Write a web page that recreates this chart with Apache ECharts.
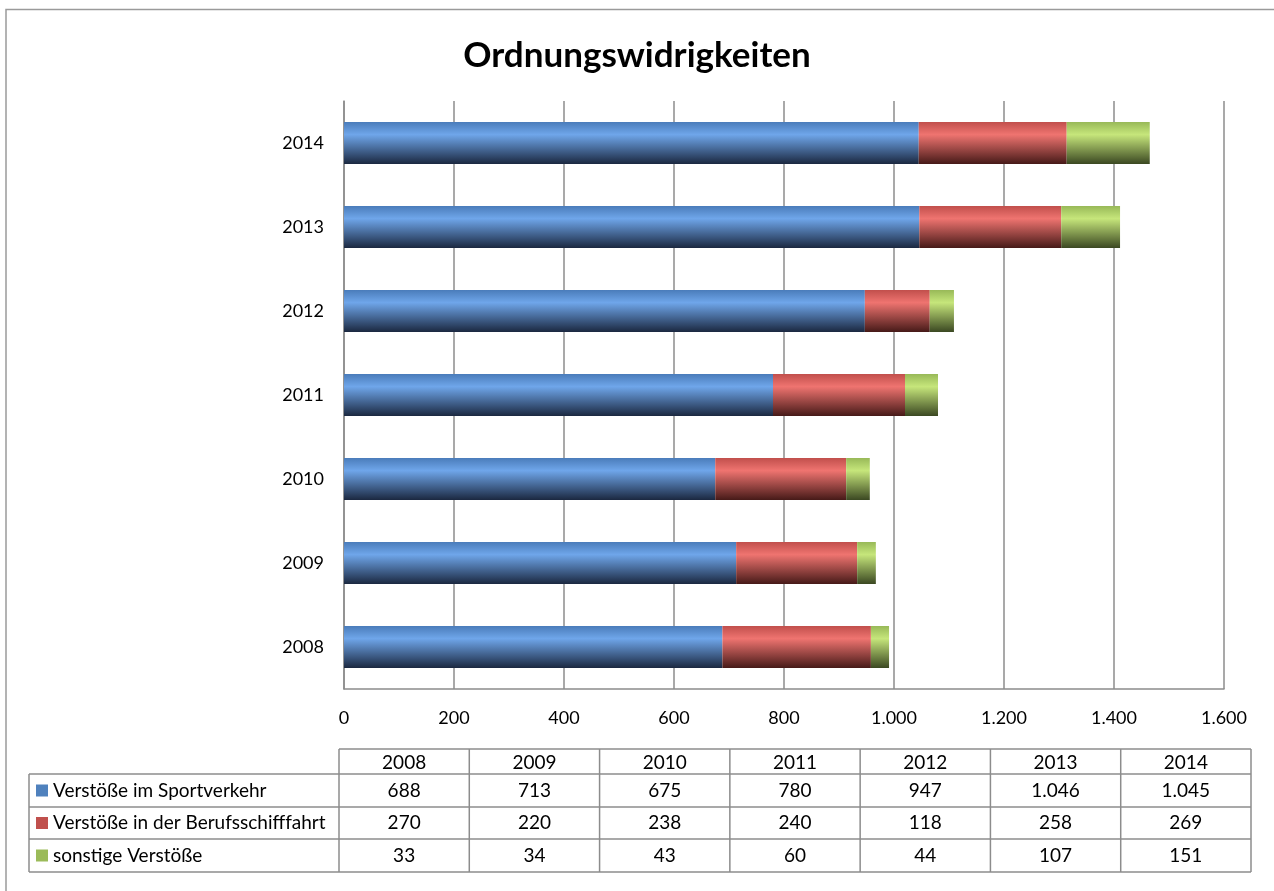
<!DOCTYPE html>
<html>
<head>
<meta charset="utf-8">
<title>Ordnungswidrigkeiten</title>
<script src="https://cdn.jsdelivr.net/npm/echarts@6/dist/echarts.min.js"></script>
<style>
  html, body { margin: 0; padding: 0; background: #fff; }
  #chart { width: 1274px; height: 891px; }
</style>
</head>
<body>
<div id="chart"></div>
<script>
// Jahre (Kategorien) und Werte aus der Tabelle
const years = ['2008', '2009', '2010', '2011', '2012', '2013', '2014'];
const seriesNames = ['Verstöße im Sportverkehr', 'Verstöße in der Berufsschifffahrt', 'sonstige Verstöße'];
const sportverkehr = [688, 713, 675, 780, 947, 1046, 1045];
const berufsschifffahrt = [270, 220, 238, 240, 118, 258, 269];
const sonstige = [33, 34, 43, 60, 44, 107, 151];

const FONT = 'Lato, "Open Sans", sans-serif';
const GRID_COLOR = '#8c8c8c';
const TABLE_FONT = '19px ' + FONT;

// Farbverläufe wie in Excel (oben mittel, hell, unten dunkel)
function shade(top, light, dark) {
  return new echarts.graphic.LinearGradient(0, 0, 0, 1, [
    { offset: 0, color: top },
    { offset: 0.3, color: light },
    { offset: 1, color: dark }
  ]);
}
const palette = [
  { base: '#4f81bd', grad: shade('#4a7cba', '#6fa6ea', '#1b2840') },
  { base: '#c0504d', grad: shade('#c14f4c', '#ef7470', '#461a18') },
  { base: '#9bbb59', grad: shade('#98b958', '#c6e67b', '#3b4822') }
];

function deNumber(v) {
  return String(v).replace(/\B(?=(\d{3})+(?!\d))/g, '.');
}

// Tabelle unterhalb des Diagramms
const tableLeft = 29;
const colStart = 339;
const colWidth = (1251 - 339) / years.length;
const headerTop = 749;
const rowTops = [774, 807, 839];
const rowBottom = 872;
const rowValues = [sportverkehr, berufsschifffahrt, sonstige];

function buildTable() {
  const els = [];
  const line = (x1, y1, x2, y2) => ({
    type: 'line',
    shape: { x1, y1, x2, y2 },
    style: { stroke: GRID_COLOR, lineWidth: 1.5 }
  });
  // horizontale Linien
  els.push(line(colStart, headerTop, 1251, headerTop));
  rowTops.forEach(y => els.push(line(tableLeft, y, 1251, y)));
  els.push(line(tableLeft, rowBottom, 1251, rowBottom));
  // vertikale Linien
  els.push(line(tableLeft, rowTops[0], tableLeft, rowBottom));
  for (let i = 0; i <= years.length; i++) {
    const x = colStart + i * colWidth;
    els.push(line(x, headerTop, x, rowBottom));
  }
  // Kopfzeile
  years.forEach((y, i) => {
    els.push({
      type: 'text',
      x: colStart + (i + 0.5) * colWidth,
      y: (headerTop + rowTops[0]) / 2 + 1,
      style: { text: y, font: TABLE_FONT, fill: '#000', align: 'center', verticalAlign: 'middle' }
    });
  });
  // Datenzeilen
  rowValues.forEach((vals, r) => {
    const top = rowTops[r];
    const bottom = r + 1 < rowTops.length ? rowTops[r + 1] : rowBottom;
    const mid = (top + bottom) / 2;
    els.push({
      type: 'rect',
      shape: { x: 36, y: mid - 6, width: 12, height: 12 },
      style: { fill: palette[r].base }
    });
    els.push({
      type: 'text',
      x: 53,
      y: mid,
      style: { text: seriesNames[r], font: TABLE_FONT, fill: '#000', align: 'left', verticalAlign: 'middle' }
    });
    vals.forEach((v, i) => {
      els.push({
        type: 'text',
        x: colStart + (i + 0.5) * colWidth,
        y: mid,
        style: { text: deNumber(v), font: TABLE_FONT, fill: '#000', align: 'center', verticalAlign: 'middle' }
      });
    });
  });
  // äußerer Rahmen
  els.push({
    type: 'rect',
    shape: { x: 6, y: 9.5, width: 1300, height: 900 },
    style: { fill: 'none', stroke: '#9a9a9a', lineWidth: 1.5 }
  });
  return els;
}

const chart = echarts.init(document.getElementById('chart'));

const option = {
  animation: false,
  backgroundColor: '#fff',
  title: {
    text: 'Ordnungswidrigkeiten',
    left: 'center',
    top: 33,
    textStyle: { fontFamily: FONT, fontSize: 35, fontWeight: 'bold', color: '#000' }
  },
  grid: {
    left: 344,
    right: 50,
    top: 101,
    bottom: 202
  },
  xAxis: {
    type: 'value',
    min: 0,
    max: 1600,
    interval: 200,
    axisLine: { show: true, lineStyle: { color: GRID_COLOR, width: 1.5 } },
    axisTick: { show: false },
    splitLine: { show: true, lineStyle: { color: GRID_COLOR, width: 1.5 } },
    axisLabel: {
      margin: 20,
      fontFamily: FONT,
      fontSize: 18,
      color: '#000',
      formatter: v => deNumber(v)
    }
  },
  yAxis: {
    type: 'category',
    data: years,
    axisLine: { show: true, lineStyle: { color: GRID_COLOR, width: 1.5 } },
    axisTick: { show: false },
    axisLabel: { margin: 20, fontFamily: FONT, fontSize: 18, color: '#000' }
  },
  series: [sportverkehr, berufsschifffahrt, sonstige].map((data, i) => ({
    name: seriesNames[i],
    type: 'bar',
    stack: 'total',
    barWidth: '50%',
    data: data,
    itemStyle: { color: palette[i].grad }
  })),
  graphic: buildTable()
};

chart.setOption(option);
</script>
</body>
</html>
